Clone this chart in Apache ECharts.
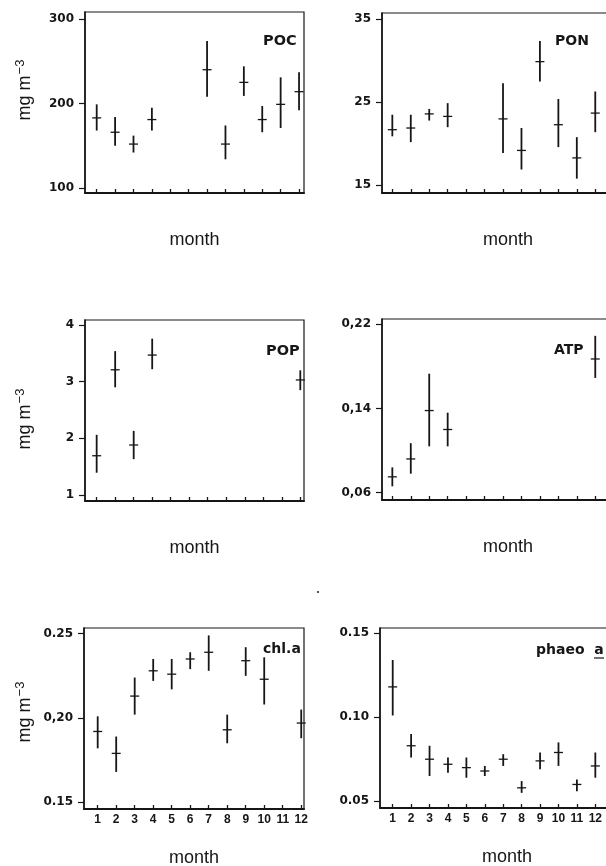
<!DOCTYPE html>
<html><head><meta charset="utf-8">
<script src="https://cdn.jsdelivr.net/npm/echarts@6/dist/echarts.min.js"></script>
<style>html,body{margin:0;padding:0;background:#fff}#c{width:606px;height:866px}</style>
</head><body><div id="c"></div>
<script>
// ---- data ----
const monthTicks = [1,2,3,4,5,6,7,8,9,10,11,12];

const pocMonths = [1,2,3,4,7,8,9,10,11,12];
const pocMean   = [183,166,152,181,240,152,225,181,199,214];
const pocLow    = [168,150,142,168,208,134,209,166,171,192];
const pocHigh   = [199,184,162,195,274,174,244,197,231,237];
const pocTicks  = [100,200,300];
const pocTickLabels = ['100','200','300'];

const ponMonths = [1,2,3,4,7,8,9,10,11,12];
const ponMean   = [21.7,21.9,23.6,23.3,23.0,19.2,29.9,22.3,18.3,23.7];
const ponLow    = [20.9,20.2,22.8,22.0,18.9,16.9,27.5,19.6,15.8,21.4];
const ponHigh   = [23.5,23.5,24.2,24.9,27.3,21.9,32.4,25.4,20.8,26.3];
const ponTicks  = [15,25,35];
const ponTickLabels = ['15','25','35'];

const popMonths = [1,2,3,4,12];
const popMean   = [1.69,3.21,1.88,3.47,3.03];
const popLow    = [1.39,2.90,1.63,3.22,2.85];
const popHigh   = [2.06,3.54,2.13,3.76,3.20];
const popTicks  = [1,2,3,4];
const popTickLabels = ['1','2','3','4'];

const atpMonths = [1,2,3,4,12];
const atpMean   = [0.075,0.092,0.138,0.120,0.187];
const atpLow    = [0.066,0.078,0.104,0.104,0.169];
const atpHigh   = [0.084,0.107,0.173,0.136,0.209];
const atpTicks  = [0.06,0.14,0.22];
const atpTickLabels = ['0,06','0,14','0,22'];

const chlMonths = [1,2,3,4,5,6,7,8,9,10,12];
const chlMean   = [0.192,0.179,0.213,0.228,0.226,0.235,0.239,0.193,0.234,0.223,0.197];
const chlLow    = [0.182,0.168,0.202,0.222,0.217,0.229,0.228,0.185,0.225,0.208,0.188];
const chlHigh   = [0.201,0.189,0.224,0.235,0.235,0.239,0.249,0.202,0.242,0.236,0.205];
const chlTicks  = [0.15,0.20,0.25];
const chlTickLabels = ['0.15','0,20','0.25'];

const phaMonths = [1,2,3,4,5,6,7,8,9,10,11,12];
const phaMean   = [0.118,0.083,0.075,0.072,0.070,0.068,0.075,0.058,0.074,0.079,0.060,0.071];
const phaLow    = [0.101,0.076,0.065,0.067,0.064,0.065,0.071,0.055,0.069,0.071,0.056,0.064];
const phaHigh   = [0.134,0.090,0.083,0.076,0.076,0.071,0.078,0.062,0.079,0.085,0.063,0.079];
const phaTicks  = [0.05,0.10,0.15];
const phaTickLabels = ['0.05','0.10','0.15'];

// ---- layout ----
const panels = [
  {m:pocMonths, mean:pocMean, lo:pocLow, hi:pocHigh, ticks:pocTicks, labels:pocTickLabels,
   grid:{left:85, top:12, width:219, height:181}, x:[0.364,12.27], y:[94.1,308.3], bottom:false},
  {m:ponMonths, mean:ponMean, lo:ponLow, hi:ponHigh, ticks:ponTicks, labels:ponTickLabels,
   grid:{left:382, top:13, width:252, height:180}, x:[0.44,14.1], y:[14.07,35.76], bottom:false},
  {m:popMonths, mean:popMean, lo:popLow, hi:popHigh, ticks:popTicks, labels:popTickLabels,
   grid:{left:85, top:320, width:219, height:181}, x:[0.37,12.2], y:[0.89,4.09], bottom:false},
  {m:atpMonths, mean:atpMean, lo:atpLow, hi:atpHigh, ticks:atpTicks, labels:atpTickLabels,
   grid:{left:382, top:319, width:252, height:181}, x:[0.44,14.1], y:[0.053,0.225], bottom:false},
  {m:chlMonths, mean:chlMean, lo:chlLow, hi:chlHigh, ticks:chlTicks, labels:chlTickLabels,
   grid:{left:84, top:628, width:220, height:181}, x:[0.26,12.15], y:[0.146,0.2534], bottom:true},
  {m:phaMonths, mean:phaMean, lo:phaLow, hi:phaHigh, ticks:phaTicks, labels:phaTickLabels,
   grid:{left:380, top:628, width:254, height:180}, x:[0.31,14.1], y:[0.046,0.153], bottom:true}
];

const INK = '#161616';

function renderCross(params, api) {
  const x = api.value(0), mean = api.value(1), lo = api.value(2), hi = api.value(3);
  const pm = api.coord([x, mean]);
  const pl = api.coord([x, lo]);
  const ph = api.coord([x, hi]);
  return {
    type: 'group',
    children: [
      {type:'line', shape:{x1:pl[0], y1:pl[1], x2:ph[0], y2:ph[1]}, style:{stroke:INK, lineWidth:1.8}},
      {type:'line', shape:{x1:pm[0]-4.5, y1:pm[1], x2:pm[0]+4.5, y2:pm[1]}, style:{stroke:INK, lineWidth:1.3}}
    ]
  };
}

function labelFor(ticks, labels) {
  return function (v) {
    for (let i = 0; i < ticks.length; i++) if (Math.abs(ticks[i] - v) < 1e-9) return labels[i];
    return '';
  };
}

const option = {
  backgroundColor: '#fff',
  animation: false,
  grid: panels.map(p => Object.assign({show:true, borderColor:INK, borderWidth:1.2,
    containLabel:false, outerBoundsMode:'none'}, p.grid)),
  xAxis: panels.map((p, i) => ({
    type:'value', gridIndex:i, min:p.x[0], max:p.x[1],
    axisLine:{show:true, onZero:false, lineStyle:{color:INK, width:2}},
    axisTick:{show:true, inside:true, length:4, customValues:monthTicks, lineStyle:{color:INK, width:1.3}},
    axisLabel:{show:p.bottom, customValues:monthTicks, margin:5, color:INK,
      fontFamily:'Liberation Sans', fontWeight:'bold', fontSize:12},
    splitLine:{show:false},
    name:'month', nameLocation:'middle', nameGap: p.bottom ? 40 : 38, nameMoveOverlap:false,
    nameTextStyle:{fontFamily:'Liberation Sans', fontSize:18, color:INK}
  })),
  yAxis: panels.map((p, i) => ({
    type:'value', gridIndex:i, min:p.y[0], max:p.y[1],
    axisLine:{show:true, onZero:false, lineStyle:{color:INK, width:1.6}},
    axisTick:{show:true, inside:false, length:6, customValues:p.ticks, lineStyle:{color:INK, width:1.2}},
    axisLabel:{show:true, customValues:p.ticks, margin:11, color:INK,
      fontFamily:'DejaVu Sans', fontWeight:'bold', fontSize:12,
      formatter: labelFor(p.ticks, p.labels)},
    splitLine:{show:false}
  })),
  series: panels.map((p, i) => ({
    type:'custom', xAxisIndex:i, yAxisIndex:i,
    renderItem: renderCross,
    encode:{x:0, y:[1,2,3]},
    data: p.m.map((mo, k) => [mo, p.mean[k], p.lo[k], p.hi[k]])
  })),
  graphic: [
    ...[90, 419, 712].map(cy => ({
      type:'text', x:25, y:cy, rotation:Math.PI/2,
      style:{text:'{n|mg m}{s|−3}', align:'center', verticalAlign:'middle', fill:INK,
        rich:{n:{fontFamily:'Liberation Sans', fontSize:18, fill:INK, lineHeight:22},
              s:{fontFamily:'Liberation Sans', fontSize:13, fill:INK, verticalAlign:'top', lineHeight:22, padding:[0,0,0,1]}}}
    })),
    {type:'text', x:263, y:41, style:{text:'POC', font:'bold 14.5px "DejaVu Sans"', fill:INK, verticalAlign:'middle'}},
    {type:'text', x:555, y:41, style:{text:'PON', font:'bold 14px "DejaVu Sans"', fill:INK, verticalAlign:'middle'}},
    {type:'text', x:266, y:351, style:{text:'POP', font:'bold 14.5px "DejaVu Sans"', fill:INK, verticalAlign:'middle'}},
    {type:'text', x:554, y:350, style:{text:'ATP', font:'bold 14px "DejaVu Sans"', fill:INK, verticalAlign:'middle'}},
    {type:'text', x:263, y:649, style:{text:'chl.a', font:'bold 14px "DejaVu Sans"', fill:INK, verticalAlign:'middle'}},
    {type:'text', x:536, y:650, style:{text:'phaeo  a', font:'bold 14px "DejaVu Sans"', fill:INK, verticalAlign:'middle'}},
    {type:'line', shape:{x1:594, y1:658, x2:604, y2:658}, style:{stroke:INK, lineWidth:1.2}},
    {type:'circle', shape:{cx:318, cy:592, r:1}, style:{fill:INK}}
  ]
};

const chart = echarts.init(document.getElementById('c'), null, {renderer:'canvas'});
chart.setOption(option);
</script>
</body></html>
